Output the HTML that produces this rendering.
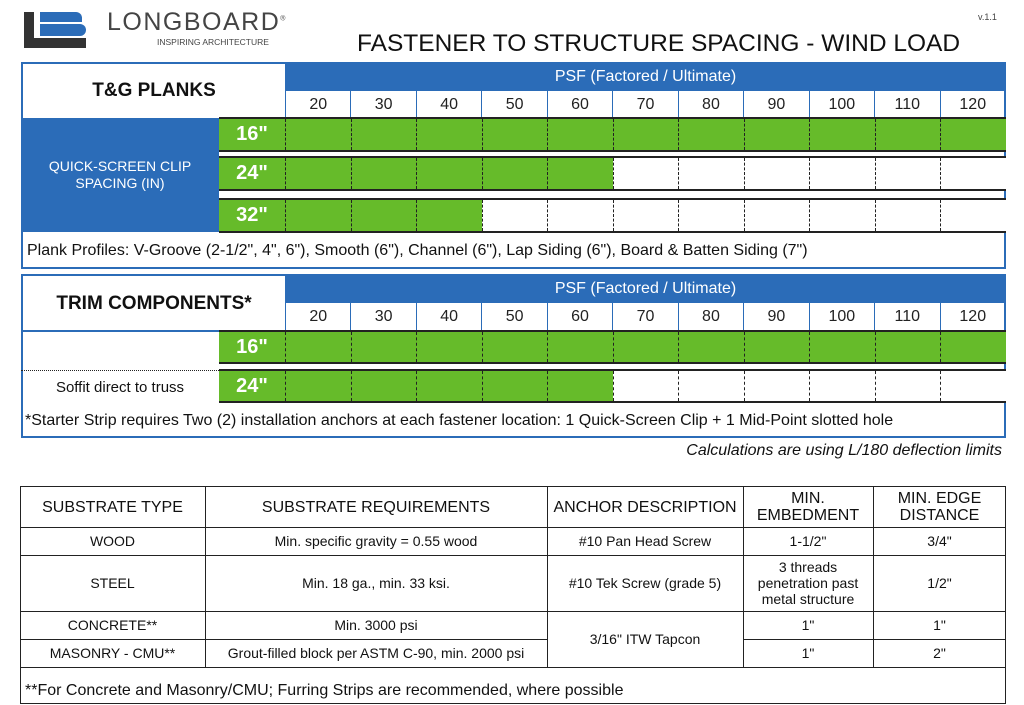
<!DOCTYPE html>
<html><head><meta charset="utf-8"><style>
*{box-sizing:border-box;margin:0;padding:0}
body{width:1024px;height:705px;background:#fff;font-family:"Liberation Sans",Arial,sans-serif;position:relative;overflow:hidden;color:#111}
.a{position:absolute}
.blue{background:#2b6cb8}
.c{display:flex;align-items:center;justify-content:center;text-align:center}
.nums{display:flex}
.nums div{flex:1;border-left:1.5px solid #2b6cb8;font-size:16px;display:flex;align-items:center;justify-content:center;color:#222}
.row{display:flex;border-top:2px solid #222;border-bottom:2px solid #222;background:#fff}
.row .lab{width:66px;background:#66bb2a;color:#fff;font-weight:bold;font-size:20px;display:flex;align-items:center;justify-content:center}
.row .g,.row .w{flex:1;border-left:1.5px dashed #222}
.row .g{background:#66bb2a}
.bt{position:absolute;border:1.5px solid #222}
.hl{height:0;border-top:1.5px solid #222}
.vl{width:0;border-left:1.5px solid #222}
.tx{font-size:14px;display:flex;align-items:center;justify-content:center;text-align:center;color:#111}
.hd{font-size:16px;line-height:17px}
</style></head><body>
<!-- logo -->
<div class="a" style="left:24px;top:12px;width:10px;height:36px;background:#333"></div>
<div class="a" style="left:24px;top:38px;width:62px;height:10px;background:#333"></div>
<div class="a" style="left:40px;top:12px;width:42px;height:10px;background:#2b6cb8;border-radius:0 6px 0 0"></div>
<div class="a" style="left:40px;top:24px;width:46px;height:12px;background:#2b6cb8;border-radius:0 6px 6px 0"></div>
<div class="a" style="left:107px;top:8px;font-size:25px;letter-spacing:1.5px;color:#444">LONGBOARD<sup style="font-size:7px">®</sup></div>
<div class="a" style="left:157px;top:37px;font-size:8.5px;color:#444">INSPIRING ARCHITECTURE</div>
<div class="a" style="left:357px;top:30px;font-size:24.5px;color:#111;white-space:nowrap">FASTENER TO STRUCTURE SPACING - WIND LOAD</div>
<div class="a" style="left:978px;top:12px;font-size:9px;color:#444">v.1.1</div>

<!-- T&G table -->
<div class="a" style="left:21px;top:62px;width:985px;height:207px;border:2px solid #2b6cb8"></div>
<div class="a c" style="left:23px;top:64px;width:262px;height:54px;font-weight:bold;font-size:19px">T&amp;G PLANKS</div>
<div class="a blue c" style="left:285px;top:62px;width:721px;height:29px;color:#fff;font-size:16px">PSF (Factored / Ultimate)</div>
<div class="a nums" style="left:285px;top:91px;width:720px;height:27px"><div>20</div><div>30</div><div>40</div><div>50</div><div>60</div><div>70</div><div>80</div><div>90</div><div>100</div><div>110</div><div>120</div></div>
<div class="a blue c" style="left:21px;top:118px;width:198px;height:114px;color:#fff;font-size:14px;line-height:17px">QUICK-SCREEN CLIP<br>SPACING (IN)</div>
<div class="a row" style="left:219px;top:117px;width:787px;height:35px"><div class="lab">16"</div><div class="g"></div><div class="g"></div><div class="g"></div><div class="g"></div><div class="g"></div><div class="g"></div><div class="g"></div><div class="g"></div><div class="g"></div><div class="g"></div><div class="g"></div></div>
<div class="a row" style="left:219px;top:156px;width:787px;height:35px"><div class="lab">24"</div><div class="g"></div><div class="g"></div><div class="g"></div><div class="g"></div><div class="g"></div><div class="w"></div><div class="w"></div><div class="w"></div><div class="w"></div><div class="w"></div><div class="w"></div></div>
<div class="a row" style="left:219px;top:198px;width:787px;height:35px"><div class="lab">32"</div><div class="g"></div><div class="g"></div><div class="g"></div><div class="w"></div><div class="w"></div><div class="w"></div><div class="w"></div><div class="w"></div><div class="w"></div><div class="w"></div><div class="w"></div></div>
<div class="a" style="left:27px;top:242px;font-size:16px;white-space:nowrap">Plank Profiles: V-Groove (2-1/2", 4", 6"), Smooth (6"), Channel (6"), Lap Siding (6"), Board &amp; Batten Siding (7")</div>

<!-- Trim table -->
<div class="a" style="left:21px;top:274px;width:985px;height:164px;border:2px solid #2b6cb8"></div>
<div class="a c" style="left:23px;top:276px;width:262px;height:55px;font-weight:bold;font-size:19px">TRIM COMPONENTS*</div>
<div class="a" style="left:21px;top:330px;width:264px;border-top:2px solid #2b6cb8"></div>
<div class="a blue c" style="left:285px;top:274px;width:721px;height:29px;color:#fff;font-size:16px">PSF (Factored / Ultimate)</div>
<div class="a nums" style="left:285px;top:303px;width:720px;height:28px"><div>20</div><div>30</div><div>40</div><div>50</div><div>60</div><div>70</div><div>80</div><div>90</div><div>100</div><div>110</div><div>120</div></div>
<div class="a row" style="left:219px;top:330px;width:787px;height:34px"><div class="lab">16"</div><div class="g"></div><div class="g"></div><div class="g"></div><div class="g"></div><div class="g"></div><div class="g"></div><div class="g"></div><div class="g"></div><div class="g"></div><div class="g"></div><div class="g"></div></div>
<div class="a row" style="left:219px;top:369px;width:787px;height:34px"><div class="lab">24"</div><div class="g"></div><div class="g"></div><div class="g"></div><div class="g"></div><div class="g"></div><div class="w"></div><div class="w"></div><div class="w"></div><div class="w"></div><div class="w"></div><div class="w"></div></div>
<div class="a" style="left:21px;top:370px;width:198px;border-top:1.5px dotted #222"></div>
<div class="a c" style="left:21px;top:372px;width:198px;height:30px;font-size:15px">Soffit direct to truss</div>
<div class="a" style="left:25px;top:412px;font-size:16px;white-space:nowrap">*Starter Strip requires Two (2) installation anchors at each fastener location: 1 Quick-Screen Clip + 1 Mid-Point slotted hole</div>
<div class="a" style="right:22px;top:442px;font-size:16px;font-style:italic;white-space:nowrap">Calculations are using L/180 deflection limits</div>

<!-- Bottom table -->
<div class="bt" style="left:20px;top:486px;width:986px;height:218px"></div>
<div class="a hl" style="left:20px;top:527px;width:986px"></div>
<div class="a hl" style="left:20px;top:555px;width:986px"></div>
<div class="a hl" style="left:20px;top:611px;width:986px"></div>
<div class="a hl" style="left:20px;top:639px;width:527px"></div>
<div class="a hl" style="left:743px;top:639px;width:263px"></div>
<div class="a hl" style="left:20px;top:667px;width:986px"></div>
<div class="a vl" style="left:205px;top:486px;height:181px"></div>
<div class="a vl" style="left:547px;top:486px;height:181px"></div>
<div class="a vl" style="left:743px;top:486px;height:181px"></div>
<div class="a vl" style="left:873px;top:486px;height:181px"></div>

<div class="a tx hd" style="left:20px;top:487px;width:185px;height:40px">SUBSTRATE TYPE</div>
<div class="a tx hd" style="left:205px;top:487px;width:342px;height:40px">SUBSTRATE REQUIREMENTS</div>
<div class="a tx hd" style="left:547px;top:487px;width:196px;height:40px">ANCHOR DESCRIPTION</div>
<div class="a tx hd" style="left:743px;top:487px;width:130px;height:40px">MIN.<br>EMBEDMENT</div>
<div class="a tx hd" style="left:873px;top:487px;width:133px;height:40px">MIN. EDGE<br>DISTANCE</div>

<div class="a tx" style="left:20px;top:527px;width:185px;height:28px">WOOD</div>
<div class="a tx" style="left:205px;top:527px;width:342px;height:28px">Min. specific gravity = 0.55 wood</div>
<div class="a tx" style="left:547px;top:527px;width:196px;height:28px">#10 Pan Head Screw</div>
<div class="a tx" style="left:743px;top:527px;width:130px;height:28px">1-1/2"</div>
<div class="a tx" style="left:873px;top:527px;width:133px;height:28px">3/4"</div>

<div class="a tx" style="left:20px;top:555px;width:185px;height:56px">STEEL</div>
<div class="a tx" style="left:205px;top:555px;width:342px;height:56px">Min. 18 ga., min. 33 ksi.</div>
<div class="a tx" style="left:547px;top:555px;width:196px;height:56px">#10 Tek Screw (grade 5)</div>
<div class="a tx" style="left:743px;top:555px;width:130px;height:56px;line-height:16px">3 threads<br>penetration past<br>metal structure</div>
<div class="a tx" style="left:873px;top:555px;width:133px;height:56px">1/2"</div>

<div class="a tx" style="left:20px;top:611px;width:185px;height:28px">CONCRETE**</div>
<div class="a tx" style="left:205px;top:611px;width:342px;height:28px">Min. 3000 psi</div>
<div class="a tx" style="left:547px;top:611px;width:196px;height:56px">3/16" ITW Tapcon</div>
<div class="a tx" style="left:743px;top:611px;width:130px;height:28px">1"</div>
<div class="a tx" style="left:873px;top:611px;width:133px;height:28px">1"</div>

<div class="a tx" style="left:20px;top:639px;width:185px;height:28px">MASONRY - CMU**</div>
<div class="a tx" style="left:205px;top:639px;width:342px;height:28px">Grout-filled block per ASTM C-90, min. 2000 psi</div>
<div class="a tx" style="left:743px;top:639px;width:130px;height:28px">1"</div>
<div class="a tx" style="left:873px;top:639px;width:133px;height:28px">2"</div>

<div class="a" style="left:25px;top:682px;font-size:16px;white-space:nowrap">**For Concrete and Masonry/CMU; Furring Strips are recommended, where possible</div>
</body></html>
